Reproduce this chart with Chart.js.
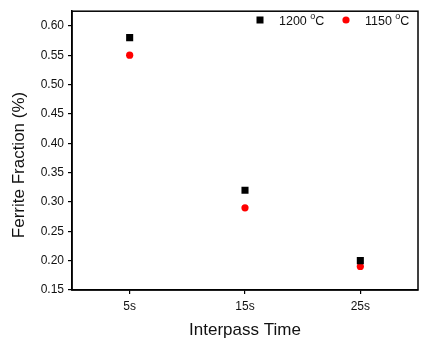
<!DOCTYPE html>
<html lang="en">
<head>
  <meta charset="UTF-8" />
  <title>Ferrite Fraction vs Interpass Time</title>
  <script src="https://cdn.jsdelivr.net/npm/chart.js"></script>
  <style>
    html, body { margin: 0; padding: 0; background: #fff; }
    #wrap { width: 425px; height: 350px; position: relative; }
  </style>
</head>
<body>
  <div id="wrap">
    <canvas id="chart" width="425" height="350"></canvas>
  </div>
  <script>
    const categories = ["5s", "15s", "25s"];
    const values1200 = [0.58, 0.32, 0.20];
    const values1150 = [0.55, 0.29, 0.19];
    const seriesNames = ["1200", "1150"];
    const yTicks = [0.15, 0.20, 0.25, 0.30, 0.35, 0.40, 0.45, 0.50, 0.55, 0.60];

    const FONT = "Arial, 'Liberation Sans', sans-serif";

    // frame, titles and the inside legend
    const extras = {
      id: "extras",
      afterDraw(chart) {
        const { ctx, chartArea: a } = chart;
        ctx.save();
        ctx.strokeStyle = "#000";
        ctx.lineWidth = 1.5;
        ctx.strokeRect(a.left, a.top, a.right - a.left, a.bottom - a.top);

        ctx.fillStyle = "#111";
        ctx.font = "17px " + FONT;
        ctx.textAlign = "center";
        ctx.textBaseline = "middle";
        ctx.fillText("Interpass Time", (a.left + a.right) / 2, 330);

        ctx.save();
        ctx.translate(19, 165);
        ctx.rotate(-Math.PI / 2);
        ctx.fillText("Ferrite Fraction (%)", 0, 0);
        ctx.restore();

        // legend
        const items = [
          { x: 260, name: seriesNames[0], ds: chart.data.datasets[0] },
          { x: 346, name: seriesNames[1], ds: chart.data.datasets[1] }
        ];
        const y = 20;
        items.forEach(it => {
          ctx.fillStyle = it.ds.backgroundColor;
          if (it.ds.pointStyle === "rect") {
            ctx.fillRect(it.x - 3.5, y - 3.5, 7, 7);
          } else {
            ctx.beginPath();
            ctx.arc(it.x, y, 3.6, 0, Math.PI * 2);
            ctx.fill();
          }
          ctx.fillStyle = "#111";
          ctx.textAlign = "left";
          ctx.textBaseline = "alphabetic";
          ctx.font = "12.5px " + FONT;
          let tx = it.x + 19;
          const num = it.name + " ";
          ctx.fillText(num, tx, y + 5);
          tx += ctx.measureText(num).width;
          ctx.font = "9px " + FONT;
          ctx.fillText("o", tx, y - 1.5);
          tx += ctx.measureText("o").width;
          ctx.font = "12.5px " + FONT;
          ctx.fillText("C", tx, y + 5);
        });
        ctx.restore();
      }
    };

    new Chart(document.getElementById("chart"), {
      type: "line",
      data: {
        labels: categories,
        datasets: [
          {
            label: seriesNames[0],
            data: values1200,
            showLine: false,
            pointStyle: "rect",
            pointRadius: 5,
            backgroundColor: "#000000",
            borderColor: "#000000",
            borderWidth: 0
          },
          {
            label: seriesNames[1],
            data: values1150,
            showLine: false,
            pointStyle: "circle",
            pointRadius: 3.6,
            backgroundColor: "#ff0000",
            borderColor: "#ff0000",
            borderWidth: 0
          }
        ]
      },
      options: {
        responsive: false,
        animation: false,
        layout: { padding: { left: 0, right: 7, top: 9, bottom: 0 } },
        plugins: { legend: { display: false }, tooltip: { enabled: false } },
        scales: {
          x: {
            offset: true,
            grid: { display: true, drawOnChartArea: false, color: "#000", tickLength: 4, lineWidth: 1.2 },
            border: { display: true, color: "#000", width: 1.5 },
            ticks: { color: "#111", font: { family: FONT, size: 12 }, padding: 5 },
            afterFit(axis) { axis.height = 60; }
          },
          y: {
            min: 0.15,
            max: 0.625,
            afterBuildTicks(axis) { axis.ticks = yTicks.map(v => ({ value: v })); },
            grid: { display: true, drawOnChartArea: false, color: "#000", tickLength: 4, lineWidth: 1.2 },
            border: { display: true, color: "#000", width: 1.5 },
            ticks: {
              color: "#111",
              font: { family: FONT, size: 12 },
              padding: 4,
              callback: v => v.toFixed(2)
            },
            afterFit(axis) { axis.width = 72; }
          }
        }
      },
      plugins: [extras]
    });
  </script>
</body>
</html>
